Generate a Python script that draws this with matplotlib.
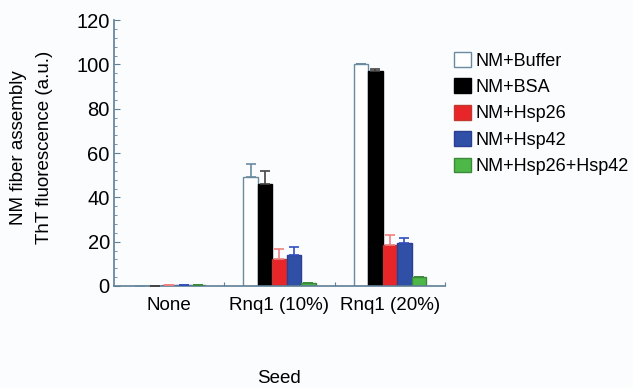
import numpy as np
import matplotlib.pyplot as plt
from matplotlib.patches import Patch
from matplotlib.ticker import MultipleLocator

plt.rcParams['font.family'] = ['Liberation Sans', 'DejaVu Sans']

# data
seeds = ['None', 'Rnq1 (10%)', 'Rnq1 (20%)']
series = ['NM+Buffer', 'NM+BSA', 'NM+Hsp26', 'NM+Hsp42', 'NM+Hsp26+Hsp42']
buffer_vals = [0.2, 49, 100]
bsa_vals = [0.2, 46, 97]
hsp26_vals = [0.3, 12, 18.5]
hsp42_vals = [0.3, 14, 19.5]
both_vals = [0.3, 1.5, 4]
buffer_err = [0, 6, 0]
bsa_err = [0, 6, 1]
hsp26_err = [0, 4.5, 4.5]
hsp42_err = [0, 3.5, 2]
both_err = [0, 0, 0]

values = [buffer_vals, bsa_vals, hsp26_vals, hsp42_vals, both_vals]
errors = [buffer_err, bsa_err, hsp26_err, hsp42_err, both_err]
face = ['white', 'black', '#e8262a', '#3050a8', '#4db848']
edge = ['#6a8aa0', 'black', '#c03a30', '#2a3f90', '#3a8a3a']
errc = ['#6a8aa0', '#444444', '#f08080', '#3050c0', '#3a8a3a']

spine_col = '#5f7f95'

fig = plt.figure(figsize=(6.33, 3.88), dpi=100)
fig.patch.set_facecolor('#fbfcfe')
ax = fig.add_axes([0.180, 0.263, 0.523, 0.685])
ax.set_facecolor('#fbfcfe')

x = np.arange(len(seeds))
w = 0.131
for i in range(len(series)):
    pos = x + (i - 2) * w
    ax.bar(pos, values[i], w, color=face[i], edgecolor=edge[i], linewidth=1.0, zorder=2)
    err = np.array(errors[i])
    ax.errorbar(pos, values[i], yerr=[np.zeros_like(err), err], fmt='none',
                ecolor=errc[i], elinewidth=1.2, capsize=3.5, capthick=1.2, zorder=3)

ax.set_xlim(-0.5, 2.5)
ax.set_ylim(0, 120)
ax.yaxis.set_major_locator(MultipleLocator(20))
ax.yaxis.set_minor_locator(MultipleLocator(4))
ax.set_xticks([0.5, 1.5, 2.5])
ax.set_xticklabels([])
ax.set_xticks(x, minor=True)
ax.set_xticklabels(seeds, minor=True, fontsize=13.5)
ax.tick_params(axis='x', which='minor', length=0, pad=8)
ax.tick_params(axis='x', which='major', direction='in', length=3, color=spine_col)
ax.tick_params(axis='y', which='major', direction='in', length=4, color=spine_col,
               labelsize=14.5, pad=3)
ax.tick_params(axis='y', which='minor', direction='in', length=2, color=spine_col)

for s in ['top', 'right']:
    ax.spines[s].set_visible(False)
for s in ['left', 'bottom']:
    ax.spines[s].set_color(spine_col)
    ax.spines[s].set_linewidth(1.2)

fig.text(0.029, 0.62, 'NM fiber assembly', rotation=90, ha='center', va='center', fontsize=13.5)
fig.text(0.070, 0.62, 'ThT fluorescence (a.u.)', rotation=90, ha='center', va='center', fontsize=13.5)
fig.text(0.44, 0.025, 'Seed', ha='center', va='center', fontsize=13.5)

handles = [Patch(facecolor=face[i], edgecolor=edge[i], label=series[i]) for i in range(len(series))]
fig.legend(handles=handles, loc='upper left', bbox_to_anchor=(0.692, 0.908), frameon=False,
           fontsize=13, handlelength=0.9, handleheight=0.9, handletextpad=0.3,
           labelspacing=0.48)

fig.savefig('out.png', dpi=100, facecolor=fig.get_facecolor())
